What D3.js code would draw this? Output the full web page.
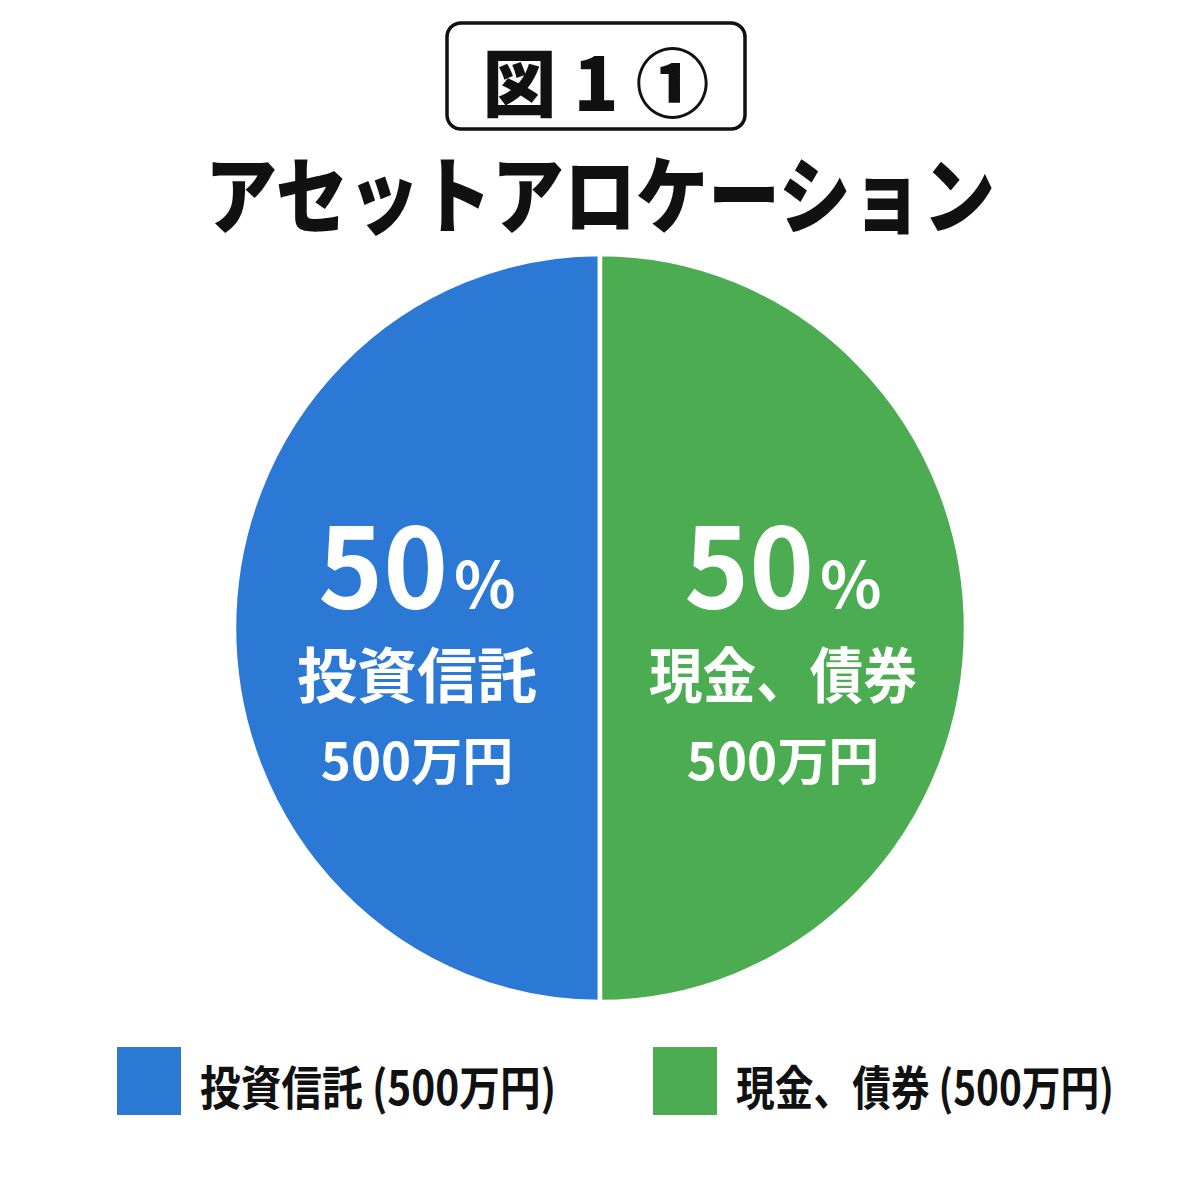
<!DOCTYPE html>
<html lang="ja">
<head>
    <meta charset="UTF-8">
    <title>アセットアロケーション</title>
    <script src="https://cdnjs.cloudflare.com/ajax/libs/d3/7.8.5/d3.min.js"></script>
    <style type="text/css">
        body { margin: 0; background: #fff; }
        svg { display: block; font-family: "Noto Sans CJK JP", "Noto Sans", sans-serif; }
    </style>
</head>
<body>
<div class="container"></div>
<script>
    // data
    const categories = ['投資信託', '現金、債券'];
    const amounts = [500, 500];          // 万円
    const shares = [50, 50];             // %
    const colors = ['#2C78D5', '#4CAC52'];
    const figLabel = '図 1 ①';
    const title = 'アセットアロケーション';

    const W = 1200, H = 1200;
    const svg = d3.select('.container')
        .append('svg')
        .attr('width', W)
        .attr('height', H);

    // --- header box
    svg.append('rect')
        .attr('x', 447).attr('y', 23)
        .attr('width', 298).attr('height', 106)
        .attr('rx', 14).attr('ry', 14)
        .attr('fill', '#fff')
        .attr('stroke', '#111')
        .attr('stroke-width', 3.5);

    svg.append('text')
        .attr('x', 596).attr('y', 78)
        .attr('text-anchor', 'middle')
        .attr('dominant-baseline', 'central')
        .attr('font-size', 74)
        .attr('font-weight', 900)
        .attr('fill', '#111')
        .text(figLabel);

    svg.append('text')
        .attr('x', 600).attr('y', 190)
        .attr('text-anchor', 'middle')
        .attr('dominant-baseline', 'central')
        .attr('font-size', 84)
        .attr('font-weight', 900)
        .attr('fill', '#111')
        .attr('textLength', 790)
        .attr('lengthAdjust', 'spacingAndGlyphs')
        .text(title);

    // --- pie
    const cx = 600, cy = 628, r = 366;
    const pieData = categories.map((c, i) => ({name: c, amount: amounts[i], share: shares[i], color: colors[i]}));

    const pie = d3.pie()
        .sort(null)
        .value(d => d.amount)
        .startAngle(Math.PI)
        .endAngle(3 * Math.PI);

    const arc = d3.arc().innerRadius(0).outerRadius(r);
    const arcs = pie(pieData);

    const gPie = svg.append('g')
        .attr('transform', `translate(${cx}, ${cy}) scale(1, 1.022)`);

    gPie.selectAll('path')
        .data(arcs)
        .enter()
        .append('path')
        .attr('d', arc)
        .attr('fill', d => d.data.color)
        .attr('stroke', '#fff')
        .attr('stroke-width', 4.5);

    const gLabels = svg.append('g')
        .attr('transform', `translate(${cx}, ${cy})`);

    const lab = gLabels.selectAll('g.lab')
        .data(arcs)
        .enter()
        .append('g')
        .attr('class', 'lab')
        .attr('transform', d => `translate(${arc.centroid(d)[0]}, 0)`)
        .attr('fill', '#fff')
        .attr('font-weight', 700)
        .attr('text-anchor', 'middle');

    const pct = lab.append('text')
        .attr('y', -20)
        .attr('font-size', 110);
    pct.append('tspan').text(d => d.data.share);
    pct.append('tspan').attr('font-size', 64).attr('dx', 6).text('%');

    // name line: "、" is set half-width in the reference, so squeeze that one
    lab.append('text')
        .attr('y', 70)
        .attr('font-size', 60)
        .each(function(d) {
            if (d.data.name.includes('、')) {
                d3.select(this)
                    .attr('textLength', 268)
                    .attr('lengthAdjust', 'spacingAndGlyphs');
            }
        })
        .text(d => d.data.name);

    lab.append('text')
        .attr('y', 152)
        .attr('font-size', 51)
        .text(d => d.data.amount + '万円');

    // --- legend
    const legendX = [117, 653];
    const legend = svg.selectAll('g.legend')
        .data(pieData)
        .enter()
        .append('g')
        .attr('class', 'legend')
        .attr('transform', (d, i) => `translate(${legendX[i]}, 1047)`);

    legend.append('rect')
        .attr('width', 64).attr('height', 68)
        .attr('fill', d => d.color);

    legend.append('text')
        .attr('x', 83).attr('y', 37)
        .attr('dominant-baseline', 'central')
        .attr('font-size', 47)
        .attr('font-weight', 700)
        .attr('fill', '#111')
        .attr('textLength', (d, i) => i === 0 ? 356 : 378)
        .attr('lengthAdjust', 'spacingAndGlyphs')
        .text(d => `${d.name} (${d.amount}万円)`);
</script>
</body>
</html>
